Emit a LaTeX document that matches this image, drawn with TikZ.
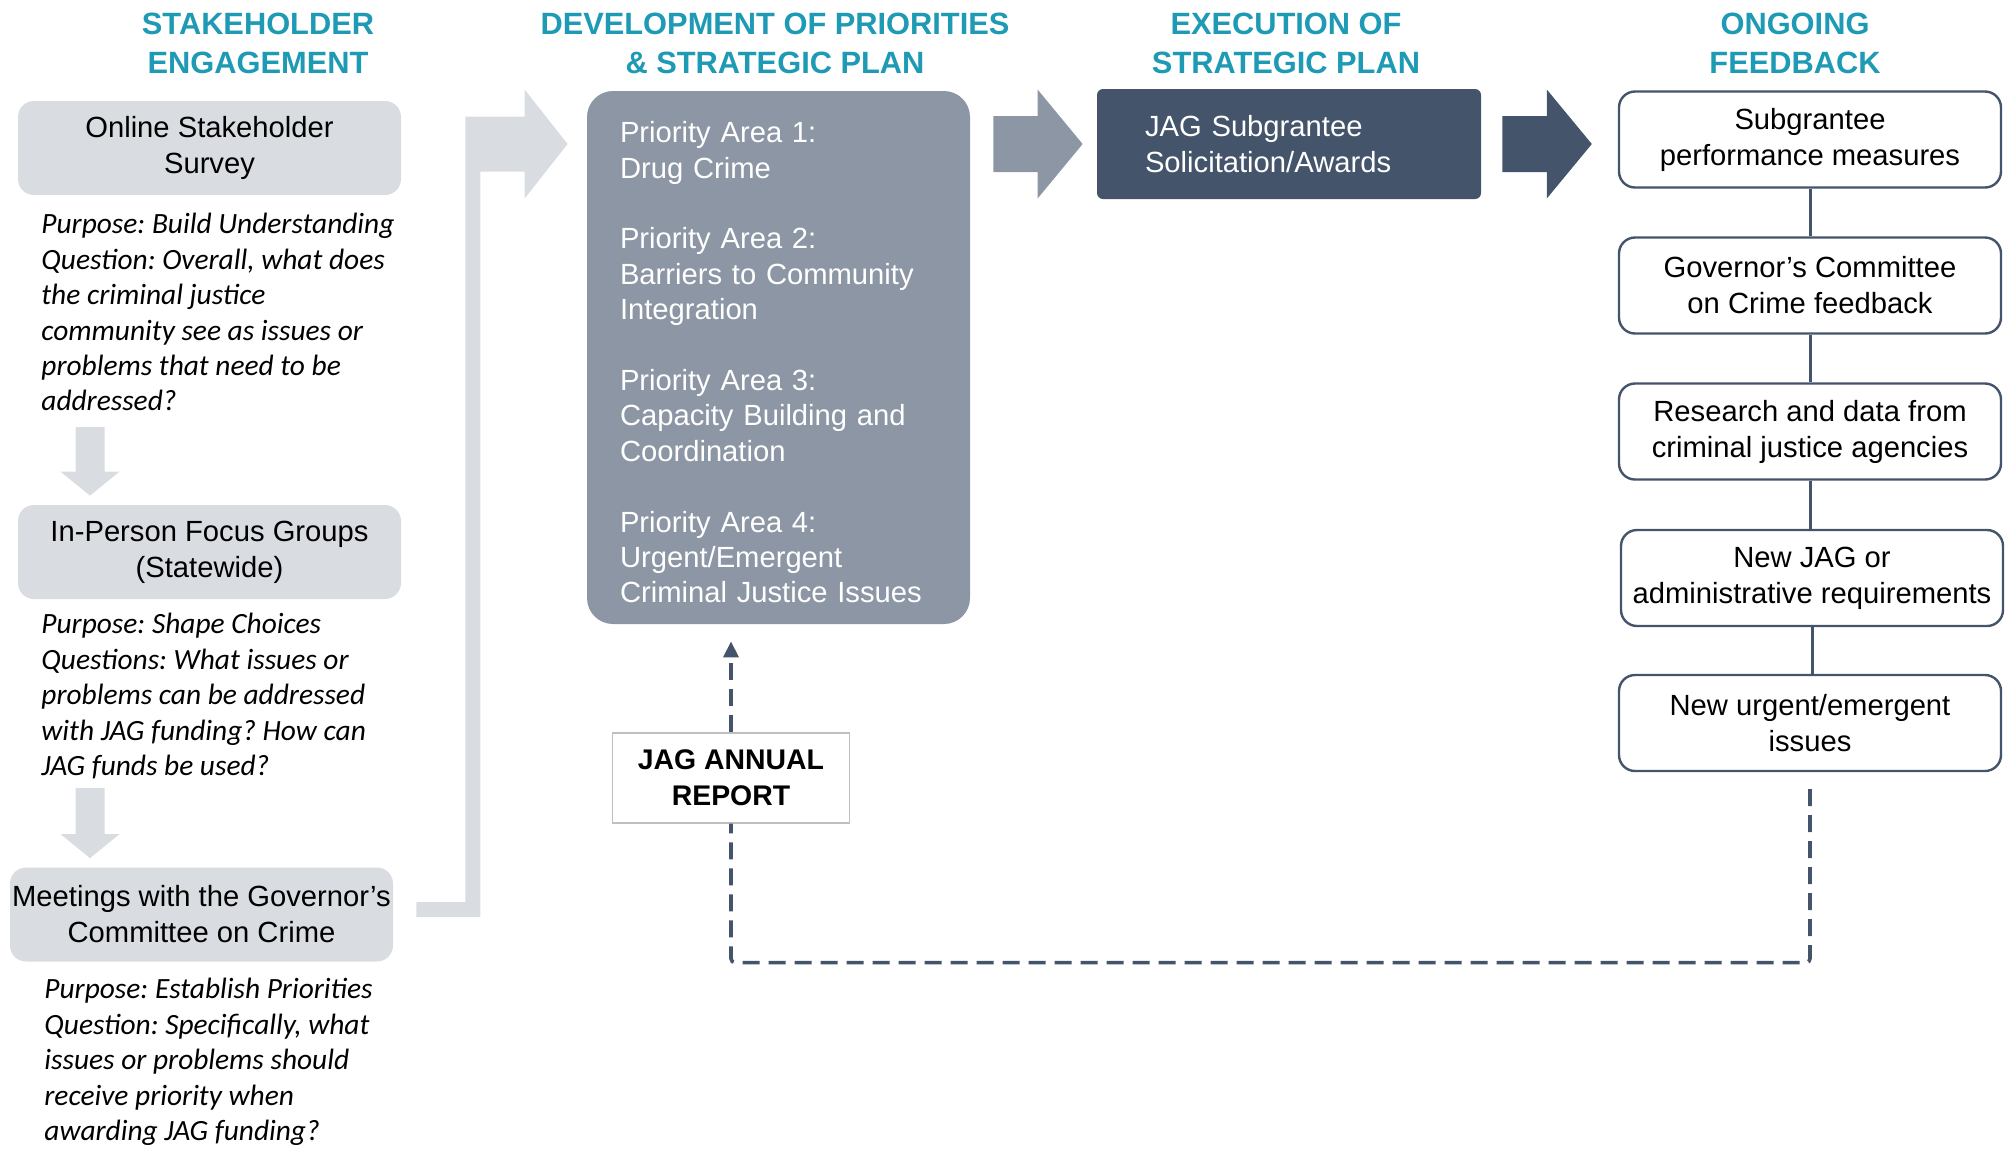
\documentclass[tikz,border=0pt]{standalone}
\usepackage{fontspec}
\setmainfont{Liberation Sans}
\newfontfamily\calibri{Carlito}
\usetikzlibrary{calc,arrows.meta}

\definecolor{headteal}{HTML}{1E9AB5}
\definecolor{boxgray}{HTML}{D9DCE1}
\definecolor{priogray}{HTML}{8D96A4}
\definecolor{slate}{HTML}{44546A}

\tikzset{
  head/.style={text=headteal, align=center, font=\bfseries\fontsize{15.4}{19.5}\selectfont},
  stage/.style={rectangle, rounded corners=8pt, fill=boxgray, minimum width=191.5pt, minimum height=47pt,
    inner sep=0pt, align=center, font=\fontsize{14.6}{18}\selectfont},
  purpose/.style={anchor=north west, inner sep=0pt, align=left,
    font=\calibri\itshape\frenchspacing\fontsize{14.7}{17.7}\selectfont},
  feedback/.style={rectangle, rounded corners=8pt, draw=slate, line width=1.2pt, fill=white, minimum width=191pt,
    minimum height=48pt, inner sep=0pt, align=center, font=\fontsize{14.6}{18}\selectfont},
  link/.style={draw=slate, line width=1.5pt},
  loopline/.style={draw=slate, line width=1.8pt, dash pattern=on 8.5pt off 4.5pt, rounded corners=2pt},
}

% block arrows
\newcommand{\dnarrow}[2]{\fill[boxgray] ($(#1)+(-14.5,0)$) -- ($(#2)+(-14.5,-24)$) -- ($(#2)+(-29.5,-24)$) -- (#2)
  -- ($(#2)+(29.5,-24)$) -- ($(#2)+(14.5,-24)$) -- ($(#1)+(14.5,0)$) -- cycle;}
\newcommand{\rtarrow}[3]{\fill[#1] ($(#2)+(0,-28)$) -- ($(#3)+(-45,-28)$) -- ($(#3)+(-45,-54.5)$) -- (#3)
  -- ($(#3)+(-45,54.5)$) -- ($(#3)+(-45,28)$) -- ($(#2)+(0,28)$) -- cycle;}

\begin{document}
\begin{tikzpicture}[x=0.5pt, y=-0.5pt]
  \useasboundingbox (0,0) rectangle (2009,1148);

  % column heads
  \node[head] (h1) at (258,43) {STAKEHOLDER\\ENGAGEMENT};
  \node[head] (h2) at (775,43) {DEVELOPMENT OF PRIORITIES\\\& STRATEGIC PLAN};
  \node[head] (h3) at (1286,43) {EXECUTION OF\\STRATEGIC PLAN};
  \node[head] (h4) at (1795,43) {ONGOING\\FEEDBACK};

  % stakeholder engagement
  \node[stage] (survey) at (209.5,148) {Online Stakeholder\\Survey};
  \node[purpose] (purp1) at (41,213) {Purpose: Build Understanding\\Question: Overall, what does\\the criminal justice\\community see as issues or\\problems that need to be\\addressed?};
  \node[stage] (focus) at (209.5,552) {In-Person Focus Groups\\(Statewide)};
  \node[purpose] (purp2) at (41,613) {Purpose: Shape Choices\\Questions: What issues or\\problems can be addressed\\with JAG funding? How can\\JAG funds be used?};
  \node[stage] (meeting) at (201.5,914.5) {Meetings with the Governor’s\\Committee on Crime};
  \node[purpose] (purp3) at (44,978) {Purpose: Establish Priorities\\Question: Specifically, what\\issues or problems should\\receive priority when\\awarding JAG funding?};

  \coordinate (dn1) at (90,427);
  \coordinate (dn1tip) at ($(dn1 |- focus.north)+(0,-9)$);
  \dnarrow{dn1}{dn1tip}
  \coordinate (dn2) at (90,788);
  \coordinate (dn2tip) at ($(dn2 |- meeting.north)+(0,-9)$);
  \dnarrow{dn2}{dn2tip}

  % priorities and execution
  \node[rectangle, rounded corners=3pt, fill=slate, text=white, minimum width=192pt, minimum height=55pt,
    text width=144pt, inner xsep=24pt, align=left, font=\fontsize{14.6}{17.6}\selectfont] (exec) at (1289,144)
    {JAG Subgrantee\\Solicitation/Awards};
  \node[rectangle, rounded corners=13pt, fill=priogray, text=white, minimum height=266.5pt, text width=158.5pt,
    inner xsep=16.5pt, align=left, font=\fontsize{14.6}{17.7}\selectfont] (prio) at (778.5,357.5)
    {\mbox{}\\[-2.2pt]Priority Area 1:\\Drug Crime\\[17.7pt]Priority Area 2:\\Barriers to Community\\Integration\\[17.7pt]Priority Area 3:\\Capacity Building and\\Coordination\\[17.7pt]Priority Area 4:\\Urgent/Emergent\\Criminal Justice Issues};

  \coordinate (br) at ($(meeting.east)+(23,-5)$);
  \coordinate (bt) at ($(prio.west |- exec.west)+(-19,0)$);
  \fill[boxgray] ($(br)+(0,-7.5)$) -- ++(49,0) |- ($(bt)+(-43,-27.5)$) -- ++(0,-27) -- (bt) -- ++(-43,54.5)
    -- ++(0,-27) -| ($(br)+(64,7.5)$) -- ($(br)+(0,7.5)$) -- cycle;

  \coordinate (ar2) at ($(prio.east |- exec.west)+(23,0)$);
  \coordinate (ar2tip) at ($(exec.west)+(-14,0)$);
  \rtarrow{priogray}{ar2}{ar2tip}

  % ongoing feedback
  \node[feedback] (fb1) at (1810,139.5) {Subgrantee\\performance measures};
  \node[feedback] (fb2) at (1810,285.5) {Governor’s Committee\\on Crime feedback};
  \node[feedback] (fb3) at (1810,431.5) {Research and data from\\criminal justice agencies};
  \node[feedback] (fb4) at (1812,578) {New JAG or\\administrative requirements};
  \node[feedback] (fb5) at (1810,723) {New urgent/emergent\\issues};
  \foreach \a/\b in {fb1/fb2,fb2/fb3,fb3/fb4,fb4/fb5}
    \draw[link] (\a.south) -- (\a.south |- \b.north);

  \coordinate (ar3) at ($(exec.east)+(21,0)$);
  \coordinate (ar3tip) at ($(fb1.west |- exec.east)+(-26,0)$);
  \rtarrow{slate}{ar3}{ar3tip}

  % annual report loop
  \node[draw=black!25, line width=0.6pt, fill=white, minimum width=118.5pt, minimum height=45pt, align=center,
    font=\bfseries\fontsize{14.2}{18}\selectfont] (report) at (731,778) {JAG ANNUAL\\REPORT};
  \coordinate (loopstart) at ($(fb5.south)+(0,17)$);
  \draw[loopline] (loopstart) |- ($(report.south)+(0,139)$) -- (report.south);
  \draw[loopline, -{Triangle[length=8pt,width=7.5pt]}] (report.north) -- ($(report.north |- prio.south)+(0,17)$);
\end{tikzpicture}
\end{document}
